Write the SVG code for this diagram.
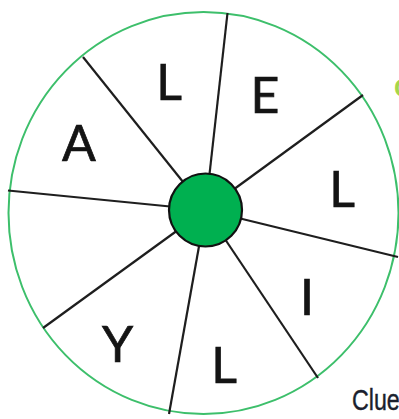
<svg xmlns="http://www.w3.org/2000/svg" width="399" height="419" viewBox="0 0 399 419">
<style>
.spoke{stroke:#1e1e1e;stroke-width:2.2;stroke-linecap:butt}
.ltr{font-family:Lato,"Open Sans",sans-serif;font-size:50px;fill:#141414;stroke:#141414;stroke-width:0.7;text-anchor:middle}
</style>
<rect width="399" height="419" fill="#ffffff"/>
<g id="wheel">
<ellipse cx="203.5" cy="213" rx="195" ry="201" fill="#ffffff" stroke="#3dbf6b" stroke-width="2"/>
</g>
<g id="spokes">
<line class="spoke" x1="205.5" y1="210" x2="227.5" y2="13"/>
<line class="spoke" x1="205.5" y1="210" x2="83" y2="57"/>
<line class="spoke" x1="205.5" y1="210" x2="8" y2="190.5"/>
<line class="spoke" x1="205.5" y1="210" x2="43" y2="328"/>
<line class="spoke" x1="205.5" y1="210" x2="169" y2="414"/>
<line class="spoke" x1="205.5" y1="210" x2="318" y2="378"/>
<line class="spoke" x1="205.5" y1="210" x2="398" y2="257"/>
<line class="spoke" x1="205.5" y1="210" x2="363" y2="95"/>
</g>
<g id="hub">
<circle cx="205.5" cy="210" r="36.5" fill="#00b050" stroke="#111111" stroke-width="2.2"/>
</g>
<g id="letters">
<text class="ltr" x="169" y="100">L</text>
<text class="ltr" x="265" y="113">E</text>
<text class="ltr" x="342" y="207">L</text>
<text class="ltr" x="307" y="315">I</text>
<text class="ltr" x="224" y="383">L</text>
<text class="ltr" x="117.5" y="362">Y</text>
<text class="ltr" x="79" y="161">A</text>
</g>
<g id="clue">
<text x="352" y="410" transform="translate(352 0) scale(0.8 1) translate(-352 0)" font-family="'Liberation Sans',Arial,sans-serif" font-size="29" fill="#1a1f2e" stroke="#1a1f2e" stroke-width="0.4">Clue</text>
<text x="394" y="97" font-family="'Liberation Sans',Arial,sans-serif" font-size="26" font-weight="bold" fill="#a6d64a">C</text>
</g>
</svg>
